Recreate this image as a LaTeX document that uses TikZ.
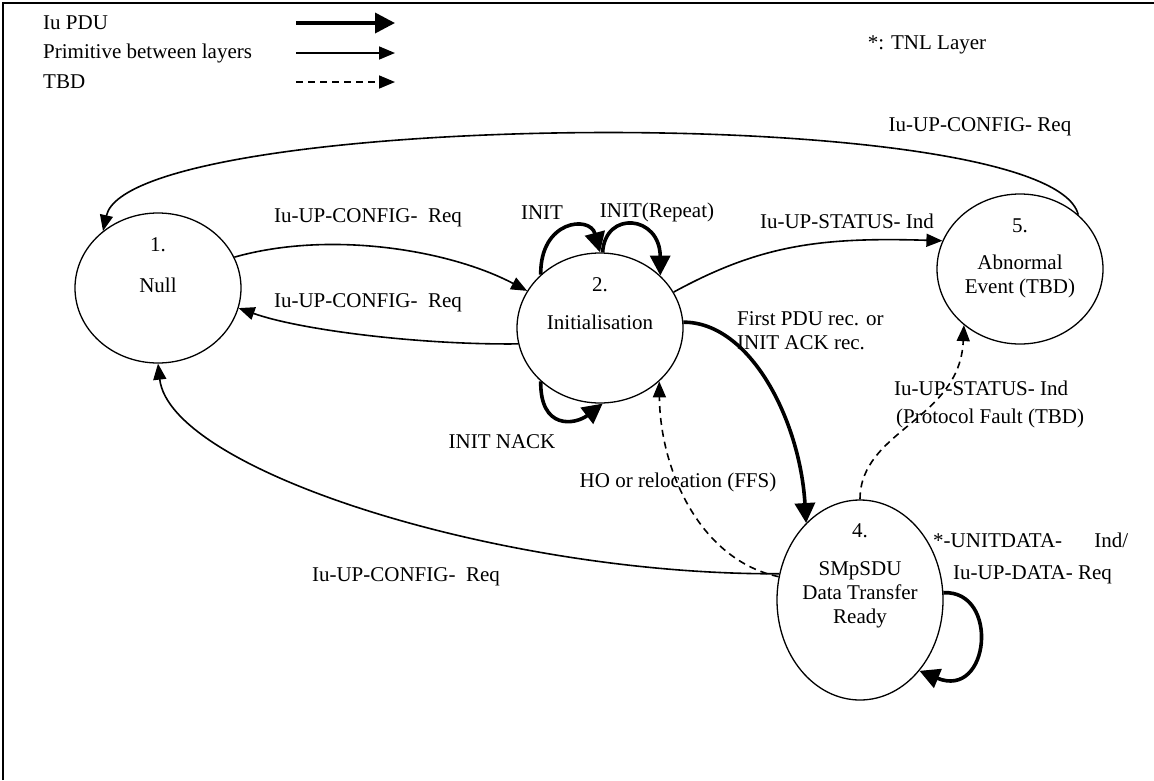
\documentclass[tikz,border=0pt]{standalone}
\usepackage{fontspec}
\setmainfont{Liberation Serif}
\usetikzlibrary{shapes.geometric,arrows.meta}

\begin{document}
\begin{tikzpicture}[
x=1pt,
y=-1pt,
font=\fontsize{21}{24}\selectfont,
state/.style={draw, ellipse, line width=1.3pt, minimum width=166pt, minimum height=150pt, inner sep=0pt},
txt/.style={inner sep=0pt},
pdu/.style={line width=3.6pt, -{Triangle[length=20pt,width=20pt]}},
prim/.style={line width=1.6pt, -{Triangle[length=16pt,width=13pt]}},
tbd/.style={prim, dash pattern=on 7pt off 5pt},
]
	\useasboundingbox (0,0) rectangle (1154,780);
	\draw[line width=1.2pt] (3,780) -- (3,3) -- (1154,3);

	% legend
	\node[txt, anchor=west] (leg-pdu) at (43,23) {Iu PDU};
	\node[txt, anchor=west] (leg-prim) at (43,53) {Primitive between layers};
	\node[txt, anchor=west] (leg-tbd) at (43,82) {TBD};
	\coordinate (pdu-a) at (296,23);  \coordinate (pdu-b) at (395,23);
	\coordinate (prim-a) at (296,53); \coordinate (prim-b) at (395,53);
	\coordinate (tbd-a) at (296,82);  \coordinate (tbd-b) at (395,82);
	\draw[pdu] (pdu-a) -- (pdu-b);
	\draw[prim] (prim-a) -- (prim-b);
	\draw[tbd] (tbd-a) -- (tbd-b);
	\node[txt] (tnl) at (927,45) {*: TNL Layer};

	% states
	\node[state] (null) at (158,288) {};
	\node[state] (init) at (600,328) {};
	\node[state] (abn) at (1020,269) {};
	\node[state, minimum height=200pt] (smp) at (860,600) {};
	\node[txt] (null-no) at (158,245) {1.};
	\node[txt] (null-name) at (158,285) {Null};
	\node[txt] (init-no) at (600,285) {2.};
	\node[txt] (init-name) at (600,322) {Initialisation};
	\node[txt] (abn-no) at (1020,226) {5.};
	\node[txt, align=center] (abn-name) at (1020,276) {Abnormal\\Event (TBD)};
	\node[txt] (smp-no) at (860,531) {4.};
	\node[txt, align=center] (smp-name) at (860,595) {SMpSDU\\Data Transfer\\Ready};

	% transitions
	\draw[prim] (null.22) .. controls (330,230) and (450,250) .. (init.153);
	\draw[prim] (init.191) .. controls (420,345) and (300,330) .. (null.-14);
	\draw[prim] (abn.43) .. controls (1050,100) and (130,110) .. (null.134);
	\draw[prim] (smp.162) .. controls (500,575) and (170,470) .. (null.-90);
	\draw[prim] (init.26) .. controls (760,245) and (820,237) .. (abn.160);
	\draw[pdu] (init.4) .. controls (750,322) and (800,420) .. (smp.125);
	\draw[tbd] (smp.90) .. controls (860,430) and (960,420) .. (abn.-135);
	\draw[tbd] (smp.164) .. controls (700,560) and (660,470) .. (init.-42);
	% self loops
	\draw[pdu] (init.138) .. controls (540,220) and (590,215) .. (init.90);
	\draw[pdu] (init.88) .. controls (605,210) and (660,215) .. (init.41);
	\draw[pdu] (init.-138) .. controls (540,430) and (575,425) .. (init.-88);
	\draw[pdu] (smp.5) .. controls (1000,590) and (990,700) .. (smp.-50);

	% labels
	\node[txt] (lbl-cfg1) at (368,218) {Iu-UP-CONFIG-\ \ Req};
	\node[txt] (lbl-cfg2) at (368,303) {Iu-UP-CONFIG-\ \ Req};
	\node[txt] (lbl-cfg3) at (980,127) {Iu-UP-CONFIG-\ Req};
	\node[txt] (lbl-cfg4) at (406,577) {Iu-UP-CONFIG-\ \ Req};
	\node[txt] (lbl-status1) at (847,221) {Iu-UP-STATUS- Ind};
	\node[txt, anchor=west, align=left] (lbl-first) at (737,331) {First PDU rec. or\\INIT ACK rec.};
	\node[txt, anchor=west] (lbl-status2) at (894,388) {Iu-UP-STATUS- Ind};
	\node[txt, anchor=west] (lbl-fault) at (896,418) {(Protocol Fault (TBD)};
	\node[txt] (lbl-ho) at (678,482) {HO or relocation (FFS)};
	\node[txt] (lbl-nack) at (502,442) {INIT NACK};
	\node[txt] (lbl-init) at (542,213) {INIT};
	\node[txt] (lbl-rep) at (657,212) {INIT(Repeat)};
	\node[txt, anchor=west] (lbl-unit) at (933,540) {\makebox[195pt][l]{*-UNITDATA-\hfill Ind/}};
	\node[txt, anchor=west] (lbl-data) at (953,575) {Iu-UP-DATA- Req};
\end{tikzpicture}
\end{document}
